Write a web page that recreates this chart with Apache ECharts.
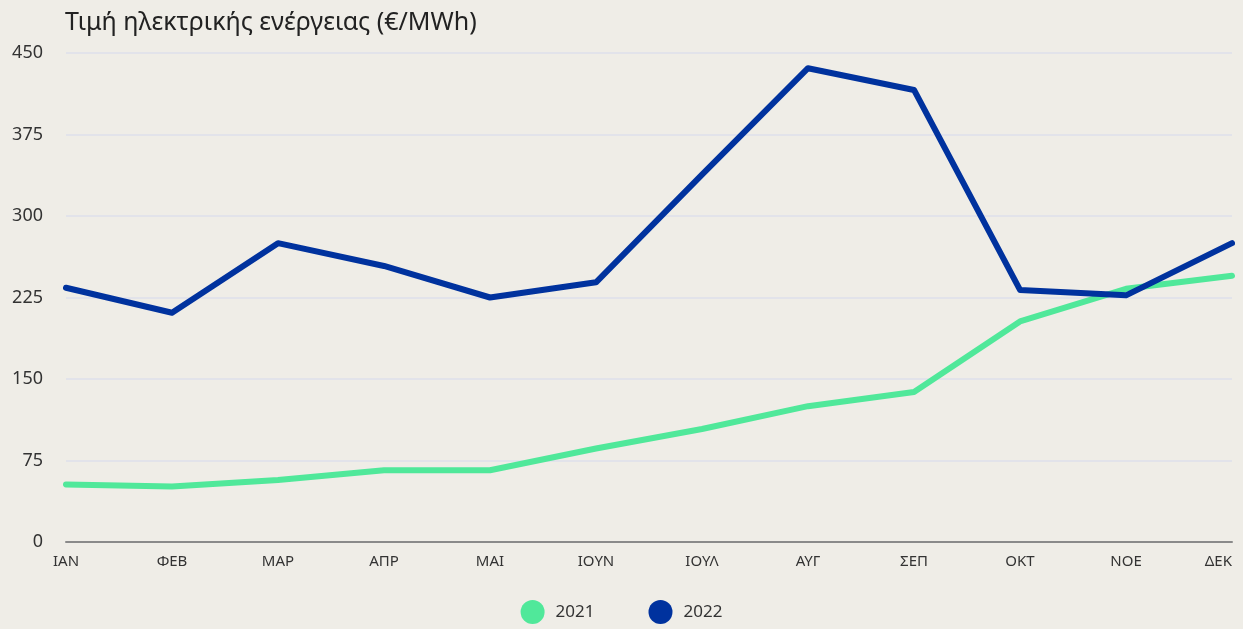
<!DOCTYPE html>
<html>
<head>
    <meta charset="utf-8">
    <title>ECharts</title>
    <script src="https://cdn.jsdelivr.net/npm/echarts@6/dist/echarts.min.js"></script>
</head>
<body style="margin:0;background:#efede7;">
    <div id="main" style="width:1243px;height:629px;"></div>
    <script type="text/javascript">
        var months = ['ΙΑΝ', 'ΦΕΒ', 'ΜΑΡ', 'ΑΠΡ', 'ΜΑΙ', 'ΙΟΥΝ', 'ΙΟΥΛ', 'ΑΥΓ', 'ΣΕΠ', 'ΟΚΤ', 'ΝΟΕ', 'ΔΕΚ'];
        var price2021 = [53, 51, 57, 66, 66, 86, 104, 125, 138, 203, 233, 245];
        var price2022 = [234, 211, 275, 254, 225, 239, 338, 436, 416, 232, 227, 275];
        var yTicks = [0, 75, 150, 225, 300, 375, 450];

        var myChart = echarts.init(document.getElementById('main'));
        var font = 'Noto Sans';
        option = {
            backgroundColor: '#efede7',
            textStyle: { fontFamily: font },
            title: {
                text: 'Τιμή ηλεκτρικής ενέργειας (€/MWh)',
                left: 60,
                top: 5,
                textStyle: { fontSize: 25, fontWeight: 'normal', color: '#222', fontFamily: font }
            },
            legend: {
                bottom: 0,
                left: 'center',
                itemWidth: 24,
                itemHeight: 24,
                itemGap: 54,
                icon: 'circle',
                textStyle: { fontSize: 17, color: '#333', fontFamily: font, padding: [0, 0, 0, 6] },
                data: ['2021', '2022']
            },
            grid: { left: 66, right: 11, top: 53, bottom: 87 },
            xAxis: {
                type: 'category',
                boundaryGap: false,
                data: months,
                axisLine: { lineStyle: { color: '#8a8a8a', width: 2 } },
                axisTick: { show: false },
                axisLabel: { color: '#333', fontSize: 15, margin: 12, fontFamily: font, alignMaxLabel: 'right' }
            },
            yAxis: {
                type: 'value',
                min: yTicks[0],
                max: yTicks[yTicks.length - 1],
                interval: 75,
                axisLine: { show: false },
                axisTick: { show: false },
                axisLabel: { color: '#333', fontSize: 18, margin: 23, fontFamily: font },
                splitLine: { lineStyle: { color: '#e2e3ea', width: 2 } }
            },
            series: [{
                name: '2021',
                type: 'line',
                data: price2021,
                symbol: 'none',
                color: '#50e89a',
                lineStyle: { width: 6, color: '#50e89a', cap: 'round', join: 'round' }
            }, {
                name: '2022',
                type: 'line',
                data: price2022,
                symbol: 'none',
                color: '#00329e',
                lineStyle: { width: 6, color: '#00329e', cap: 'round', join: 'round' }
            }]
        };
        myChart.setOption(option);
    </script>
</body>
</html>
